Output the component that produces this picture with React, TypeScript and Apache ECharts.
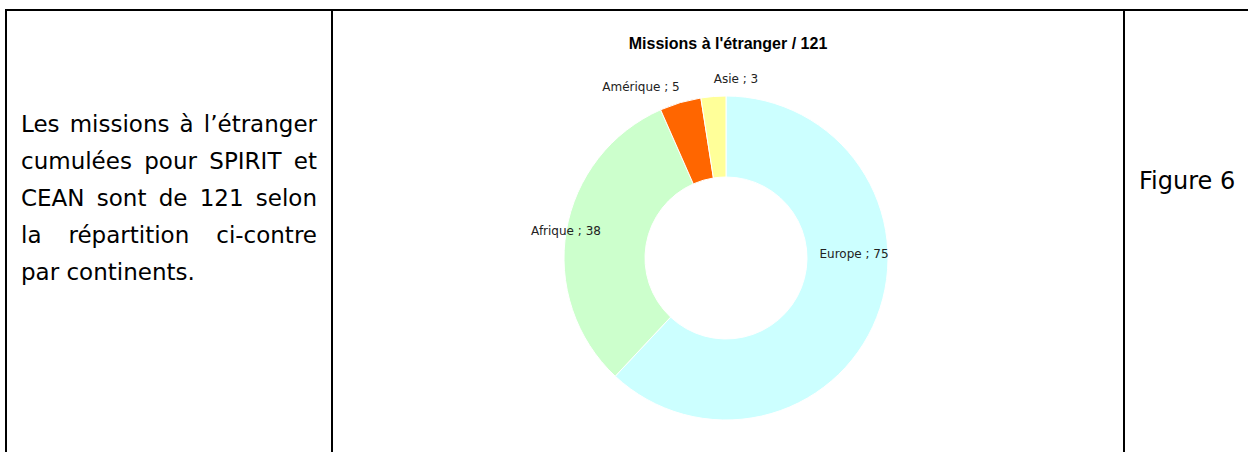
import React, { useEffect, useRef } from "react";
import * as echarts from "echarts";

const categories = ["Europe", "Afrique", "Amérique", "Asie"];
const values = [75, 38, 5, 3];
const colors = ["#CCFFFF", "#CCFFCC", "#FF6600", "#FFFF99"];
const chartTitle = "Missions à l'étranger / 121";
const leftLines = [
  "Les missions à l’étranger",
  "cumulées pour SPIRIT et",
  "CEAN sont de 121 selon",
  "la répartition ci-contre",
  "par continents.",
];
const figureLabel = "Figure 6";
// label anchor positions (layout, not data)
const labelPos = [
  [854, 254],
  [566, 231],
  [641, 87],
  [736, 79],
];

export default function App() {
  const ref = useRef<HTMLDivElement>(null);
  useEffect(() => {
    document.body.style.margin = "0";
    const chart = echarts.init(ref.current!, null, { renderer: "svg" });
    chart.setOption({
      animation: false,
      title: {
        text: chartTitle,
        left: 723,
        top: 30,
        textAlign: "center",
        textStyle: {
          fontFamily: "Liberation Sans, Arial, sans-serif",
          fontSize: 16,
          fontWeight: "bold",
          color: "#000",
        },
      },
      series: [
        {
          type: "pie",
          center: [726, 258],
          radius: [81, 162],
          startAngle: 90,
          clockwise: true,
          avoidLabelOverlap: false,
          itemStyle: { borderColor: "#fff", borderWidth: 1 },
          label: {
            show: true,
            formatter: "{b} ; {c}",
            fontFamily: "DejaVu Sans, sans-serif",
            fontSize: 12,
            color: "#222",
          },
          labelLine: { show: false },
          labelLayout: (p: any) => ({
            x: labelPos[p.dataIndex][0],
            y: labelPos[p.dataIndex][1],
            align: "center",
            verticalAlign: "middle",
          }),
          emphasis: { disabled: true },
          data: categories.map((c, i) => ({
            name: c,
            value: values[i],
            itemStyle: { color: colors[i] },
          })),
        },
      ],
    });
    return () => chart.dispose();
  }, []);

  const line = (s: any) => ({ position: "absolute" as const, background: "#000", ...s });
  return (
    <div style={{ position: "fixed", left: 0, top: 0, width: 1258, height: 452, background: "#fff", overflow: "hidden" }}>
      <div ref={ref} style={{ position: "absolute", left: 0, top: 0, width: 1258, height: 452 }} />
      <div style={line({ left: 5, top: 9, width: 1243, height: 2 })} />
      <div style={line({ left: 5, top: 9, width: 2, height: 443 })} />
      <div style={line({ left: 331, top: 9, width: 2, height: 443 })} />
      <div style={line({ left: 1123, top: 9, width: 2, height: 443 })} />
      <div
        style={{
          position: "absolute",
          left: 21,
          top: 106,
          width: 296,
          fontFamily: "DejaVu Sans, sans-serif",
          fontSize: 23,
          lineHeight: "37px",
          color: "#000",
        }}
      >
        {leftLines.map((t, i) => (
          <div
            key={i}
            style={{
              textAlign: i < leftLines.length - 1 ? "justify" : "left",
              textAlignLast: i < leftLines.length - 1 ? "justify" : "left",
              whiteSpace: "nowrap",
            }}
          >
            {t}
          </div>
        ))}
      </div>
      <div
        style={{
          position: "absolute",
          left: 1139,
          top: 163,
          fontFamily: "DejaVu Sans, sans-serif",
          fontSize: 24,
          lineHeight: "37px",
          color: "#000",
        }}
      >
        {figureLabel}
      </div>
    </div>
  );
}
